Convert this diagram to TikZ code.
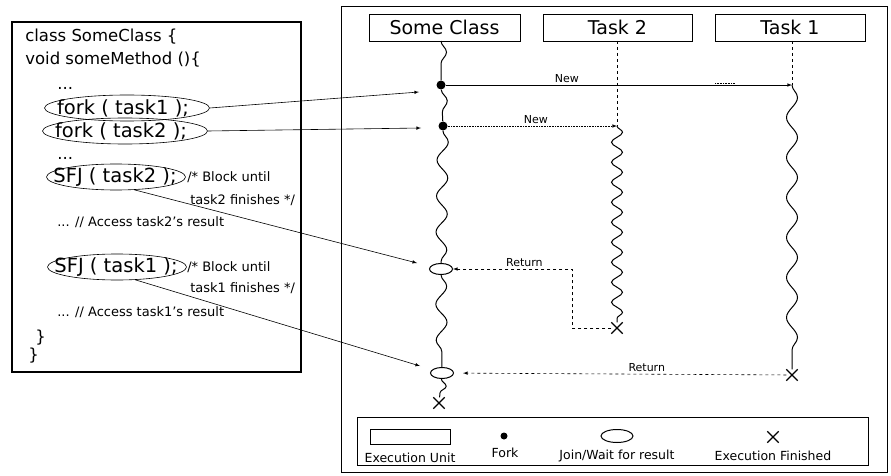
\documentclass[tikz,border=0pt]{standalone}
\usepackage{fontspec}
\setmainfont{DejaVu Sans}
\usetikzlibrary{shapes}
\usetikzlibrary{decorations.pathmorphing}
\tikzset{>=latex}

\begin{document}
\begin{tikzpicture}[x=1pt, y=-1pt, line width=0.6pt]
\tikzset{wavy/.style={decorate, decoration={snake, amplitude=5.5pt, segment length=#1}, line width=1pt}, wavy/.default=36pt}
\tikzset{unitbox/.style={draw, minimum height=27pt, inner sep=0pt, font=\fontsize{19}{19}\selectfont}}
\tikzset{codeline/.style={anchor=base west, inner sep=0pt, font=\fontsize{16.5}{16.5}\selectfont}}
\tikzset{callout/.style={draw, ellipse, inner sep=0pt, minimum height=26pt}}
\tikzset{calltext/.style={inner sep=0pt, font=\fontsize{19.5}{19.5}\selectfont}}
\tikzset{remark/.style={anchor=base west, inner sep=0pt, font=\fontsize{13}{13}\selectfont}}
\tikzset{msg/.style={inner sep=2pt, font=\fontsize{11}{11}\selectfont}}
\tikzset{forkdot/.style={circle, fill, inner sep=0pt, minimum size=9pt}}
\tikzset{joinmark/.style={draw, ellipse, fill=white, inner sep=0pt, minimum width=23pt, minimum height=11pt, line width=1pt}}
\tikzset{endmark/.style={cross out, draw, inner sep=0pt, minimum size=10pt, line width=1.3pt}}
\tikzset{legendtext/.style={inner sep=0pt, font=\fontsize{12.5}{12.5}\selectfont}}

\useasboundingbox (0,0) rectangle (891,476);

% code listing
\draw[line width=2pt] (12,22) rectangle (301,372);
\node[codeline] (L1) at (25,42) {class SomeClass \{};
\node[codeline] (L2) at (25,65) {void someMethod ()\{};
\node[codeline] (L3) at (57,90) {...};
\node[callout, minimum width=165pt] (C1) at (127,108) {};
\node[calltext] (C1t) at (123,108) {fork ( task1 );};
\node[callout, minimum width=165pt] (C2) at (125,131) {};
\node[calltext] (C2t) at (121,131) {fork ( task2 );};
\node[codeline] (L4) at (57,160) {...};
\node[callout, minimum width=139pt] (C3) at (116,177) {};
\node[calltext] (C3t) at (115,177) {SFJ ( task2 );};
\node[remark] (R1) at (187,181) {/* Block until};
\node[remark] (R2) at (190,204) {task2 finishes */};
\node[remark] (L5) at (57,226) {... // Access task2's result};
\node[callout, minimum width=139pt] (C4) at (117,267) {};
\node[calltext] (C4t) at (116,267) {SFJ ( task1 );};
\node[remark] (R3) at (187,271) {/* Block until};
\node[remark] (R4) at (190,292) {task1 finishes */};
\node[remark] (L6) at (57,316) {... // Access task1's result};
\node[codeline] (L7) at (35,342) {\}};
\node[codeline] (L8) at (28,360) {\}};

% sequence
\draw (341,6) rectangle (887,472);
\node[unitbox, minimum width=151pt] (SC) at (444.5,27.5) {Some Class};
\node[unitbox, minimum width=149pt] (T2) at (617.5,27.5) {Task 2};
\node[unitbox, minimum width=150pt] (T1) at (790,27.5) {Task 1};

\coordinate (SCtop) at (441,41);
\coordinate (T2top) at (617,41);
\coordinate (T1top) at (792,41);
\coordinate (N1) at (792,85);
\coordinate (N2) at (617,126);
\coordinate (Bend) at (572,269);

\node[forkdot] (F1) at (441,85) {};
\node[forkdot] (F2) at (443,126) {};
\node[joinmark] (J1) at (441,269) {};
\node[joinmark] (J2) at (442,373) {};
\node[endmark] (E0) at (439,403) {};
\node[endmark] (E2) at (617,328) {};
\node[endmark] (E1) at (792,375) {};

\draw[wavy] (SCtop) -- (F1);
\draw[wavy] (F1) -- (F2);
\draw[wavy] (F2) -- (J1);
\draw[wavy] (J1) -- (J2);
\draw[wavy=22pt] (J2) -- (E0);
\draw[dashed, line width=1pt] (T2top) -- (N2);
\draw[wavy=20pt] (N2) -- (E2);
\draw[dashed, line width=1pt] (T1top) -- (N1);
\draw[wavy=40pt] (N1) -- (E1);

\draw[->] (F1) -- node[msg, above, pos=0.35] {New} (N1);
\draw[densely dotted] (715,83) -- (735,83);
\draw[->, densely dotted] (F2) -- node[msg, above, pos=0.52] {New} (N2);
\draw[->, dashed] (E2) -| (Bend) -- node[msg, above, pos=0.4] {Return} (J1);
\draw[->, dashed, shorten >=9pt] (E1) -- node[msg, above, pos=0.42] {Return} (J2);

% calls
\coordinate (A1) at (419,92);
\coordinate (A2) at (421,128);
\coordinate (A3) at (417,263);
\coordinate (A4) at (420,366);
\draw[->] (C1.east) -- (A1);
\draw[->] (C2.east) -- (A2);
\draw[->] (C3.-35) -- (A3);
\draw[->] (C4.-35) -- (A4);

% legend
\draw (357,417) rectangle (868,465);
\node[draw, minimum width=80pt, minimum height=15pt, inner sep=0pt] (LU) at (410,437) {};
\node[legendtext] (LUt) at (410,458) {Execution Unit};
\node[forkdot, minimum size=7pt] (LF) at (504,436) {};
\node[legendtext] (LFt) at (505,453) {Fork};
\node[joinmark, minimum width=32pt, minimum height=13pt] (LJ) at (617,436) {};
\node[legendtext] (LJt) at (617,456) {Join/Wait for result};
\node[endmark] (LX) at (773,437) {};
\node[legendtext] (LXt) at (773,456) {Execution Finished};
\end{tikzpicture}
\end{document}
